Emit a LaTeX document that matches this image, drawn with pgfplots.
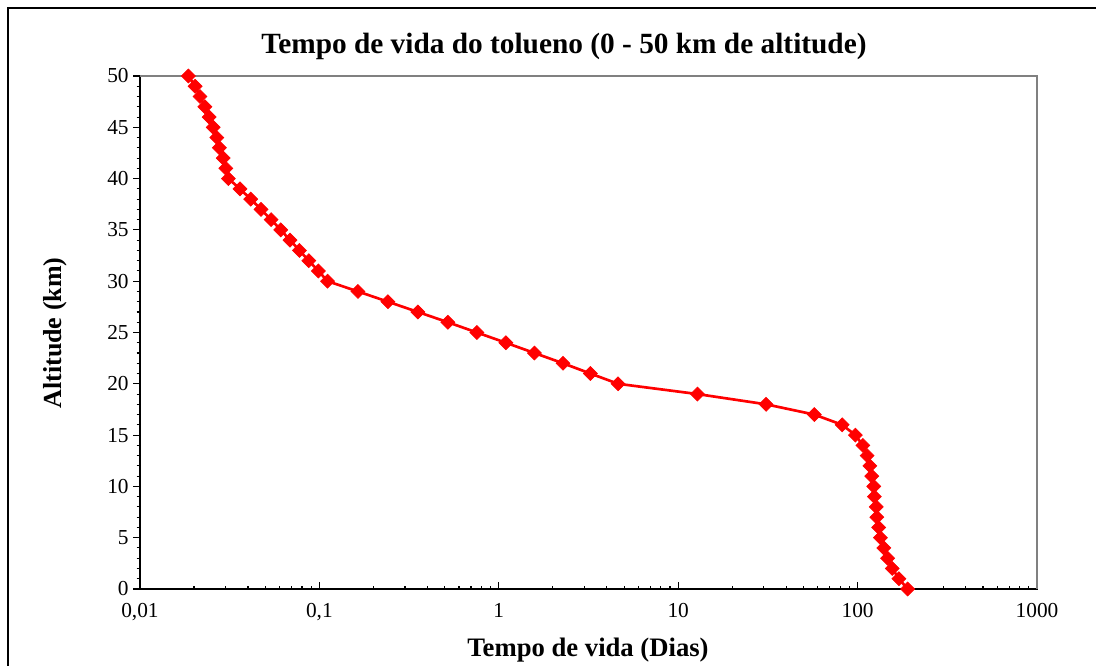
\documentclass[border=0pt]{standalone}
\usepackage{pgfplots}
\pgfplotsset{compat=1.18}
\usepackage{fontspec}
\setmainfont{Liberation Serif}
\pgfplotstableread{
t alt
190 0
170 1
156 2
147 3
140 4
134 5
131 6
128 7
127 8
124 9
123 10
120 11
117 12
113 13
107 14
97.2 15
82.0 16
57.4 17
30.9 18
12.8 19
4.62 20
3.24 21
2.28 22
1.58 23
1.095 24
0.755 25
0.520 26
0.354 27
0.241 28
0.164 29
0.111 30
0.0987 31
0.0873 32
0.0774 33
0.0686 34
0.0609 35
0.0538 36
0.0473 37
0.0414 38
0.0361 39
0.0311 40
0.0301 41
0.0291 42
0.0277 43
0.0268 44
0.0256 45
0.0243 46
0.0230 47
0.0216 48
0.0203 49
0.0186 50
}\datatab
\begin{document}
\begin{tikzpicture}
\path[use as bounding box] (0,0) rectangle (822pt,499.5pt);
\draw[line width=1.5pt,black] (6pt,-2pt) -- (6pt,493.5pt) -- (824pt,493.5pt);
\begin{axis}[
  at={(105pt,57.75pt)}, anchor=south west,
  scale only axis, width=672.75pt, height=384.75pt,
  xmode=log, xmin=0.01, xmax=1000, ymin=0, ymax=50,
  axis line style={line width=1.5pt, black},
  xtick={0.01,0.1,1,10,100,1000},
  xticklabels={{0,01},{0,1},1,10,100,1000},
  ytick={0,5,...,50},
  minor y tick num=4,
  xtick pos=bottom, ytick pos=left,
  xtick align=inside, ytick align=outside,
  major tick length=5pt, minor tick length=2.5pt,
  tick style={black, line width=0.8pt},
  /pgf/number format/assume math mode=true,
  tick label style={font=\fontsize{16}{19}\selectfont},
  xticklabel style={yshift=-7pt},
  clip=false,
]
\draw[line width=1.5pt, color=gray] (rel axis cs:0,1) -- (rel axis cs:1,1) -- (rel axis cs:1,0);
\addplot[red, line width=2pt, mark=square*, mark size=3.7pt, mark options={solid, rotate=45, fill=red, draw=red, line width=0.5pt}] table[x=t, y=alt] {\datatab};
\end{axis}
\node[font=\bfseries\fontsize{22}{26}\selectfont] at (423pt,465pt) {Tempo de vida do tolueno (0 - 50 km de altitude)};
\node[font=\bfseries\fontsize{20}{24}\selectfont] at (441pt,12pt) {Tempo de vida (Dias)};
\node[font=\bfseries\fontsize{19.5}{23}\selectfont, rotate=90] at (41.25pt,249.75pt) {Altitude (km)};
\end{tikzpicture}
\end{document}
